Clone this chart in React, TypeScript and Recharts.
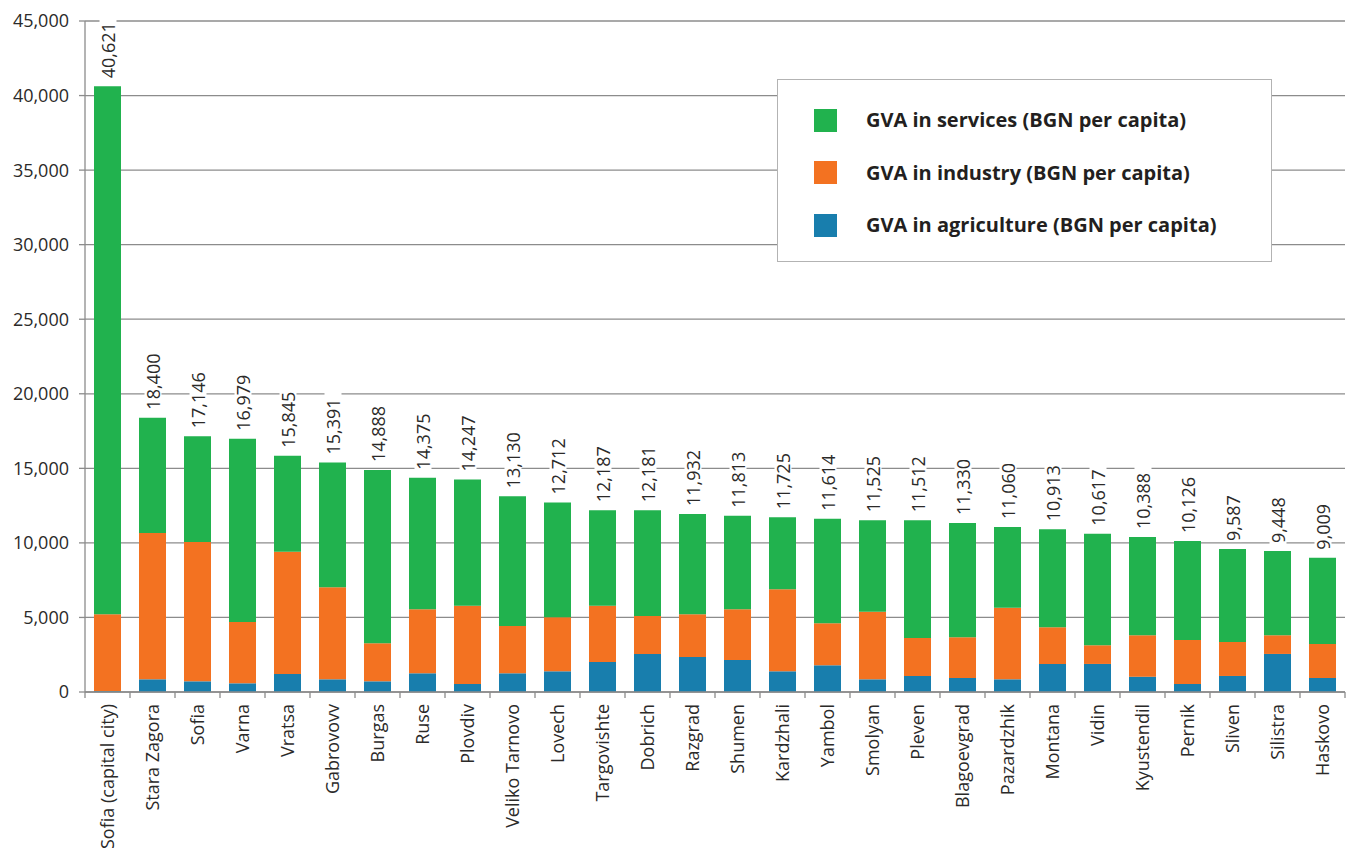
import { Bar, BarChart, CartesianGrid, LabelList, Legend, XAxis, YAxis } from "recharts"

const regions = [
	"Sofia (capital city)", "Stara Zagora", "Sofia", "Varna", "Vratsa", "Gabrovovv", "Burgas",
	"Ruse", "Plovdiv", "Veliko Tarnovo", "Lovech", "Targovishte", "Dobrich", "Razgrad",
	"Shumen", "Kardzhali", "Yambol", "Smolyan", "Pleven", "Blagoevgrad", "Pazardzhik",
	"Montana", "Vidin", "Kyustendil", "Pernik", "Sliven", "Silistra", "Haskovo",
]

const agriculture = [
	60, 851, 716, 582, 1209, 851, 716, 1254, 537, 1254, 1388, 2015, 2552, 2351,
	2149, 1388, 1791, 851, 1075, 940, 851, 1881, 1881, 1030, 537, 1075, 2552, 940,
]

const industry = [
	5157, 9807, 9337, 4120, 8195, 6179, 2553, 4299, 5240, 3179, 3627, 3762, 2553, 2866,
	3404, 5508, 2821, 4523, 2552, 2732, 4791, 2463, 1254, 2776, 2956, 2283, 1254, 2284,
]

const services = [
	35404, 7742, 7093, 12277, 6441, 8361, 11619, 8822, 8470, 8697, 7697, 6410, 7076, 6715,
	6260, 4829, 7002, 6151, 7885, 7658, 5418, 6569, 7482, 6582, 6633, 6229, 5642, 5785,
]

const yTicks = [0, 5000, 10000, 15000, 20000, 25000, 30000, 35000, 40000, 45000]

const GREEN = "#21b24e"
const ORANGE = "#f37221"
const BLUE = "#187ead"
const GRID = "#8c8c8c"
const TEXT = "#2b2a29"
const FONT = "'Open Sans', sans-serif"

const data = regions.map((name, i) => ({
	name,
	agriculture: agriculture[i],
	industry: industry[i],
	services: services[i],
	total: agriculture[i] + industry[i] + services[i],
}))

const fmt = (v: number) => v.toLocaleString("en-US")

// category name rotated under the bar, plus tick marks on the band edges
function RegionTick(props: any) {
	const { x, y, payload, index } = props
	const half = payload.offset ?? 22.5
	return (
		<g>
			<line x1={x - half} x2={x - half} y1={y} y2={y + 6} stroke={GRID} strokeWidth={1.3} />
			{index === regions.length - 1 && (
				<line x1={x + half} x2={x + half} y1={y} y2={y + 6} stroke={GRID} strokeWidth={1.3} />
			)}
			<g transform={`translate(${x},${y + 12}) rotate(-90)`}>
				<text textAnchor="end" dy={6} fontSize={18} fill={TEXT} fontFamily={FONT}>
					{payload.value}
				</text>
			</g>
		</g>
	)
}

// total above each stack, on a white patch so the grid doesn't run through it
function TotalLabel(props: any) {
	const { x, y, width, value } = props
	const text = fmt(value)
	const len = text.length * 9.9
	const cx = x + width / 2
	const base = y - 8
	return (
		<g>
			<rect x={cx - 8} y={base - len - 3} width={17} height={len + 4} fill="#fff" />
			<g transform={`translate(${cx},${base}) rotate(-90)`}>
				<text textAnchor="start" dy={7} fontSize={18} fill={TEXT} fontFamily={FONT}>
					{text}
				</text>
			</g>
		</g>
	)
}

function LegendBox(props: any) {
	const items = [...(props.payload || [])].reverse()
	return (
		<div
			style={{
				position: "relative",
				width: 495,
				height: 183,
				border: "1.5px solid #b3b3b3",
				background: "#fff",
				boxSizing: "border-box",
				fontFamily: FONT,
			}}
		>
			{items.map((item: any, i: number) => (
				<div key={item.value} style={{ position: "absolute", left: 0, top: 40 + i * 52.5, height: 0 }}>
					<div
						style={{ position: "absolute", left: 36, top: -11.5, width: 23, height: 23, background: item.color }}
					/>
					<div
						style={{
							position: "absolute",
							left: 88,
							top: -14,
							lineHeight: "28px",
							whiteSpace: "nowrap",
							fontSize: 20,
							fontWeight: 700,
							color: "#231f20",
						}}
					>
						{item.value}
					</div>
				</div>
			))}
		</div>
	)
}

export default function App() {
	return (
		<div style={{ position: "fixed", left: 0, top: 0, background: "#fff" }}>
			<BarChart
				width={1349}
				height={859}
				data={data}
				margin={{ top: 21, right: 4, bottom: 0, left: 0 }}
			>
				<CartesianGrid vertical={false} stroke={GRID} strokeWidth={1.3} />
				<XAxis
					dataKey="name"
					interval={0}
					height={167}
					axisLine={{ stroke: GRID, strokeWidth: 1.3 }}
					tickLine={false}
					tickSize={0}
					tickMargin={0}
					tick={<RegionTick />}
				/>
				<YAxis
					width={85}
					domain={[0, 45000]}
					ticks={yTicks}
					interval={0}
					tickFormatter={fmt}
					axisLine={{ stroke: GRID, strokeWidth: 1.3 }}
					tickLine={{ stroke: GRID, strokeWidth: 1.3 }}
					tickSize={6}
					tickMargin={10}
					tick={{ fontSize: 18, fill: TEXT, fontFamily: FONT }}
				/>
				<Legend
					layout="vertical"
					align="center"
					verticalAlign="middle"
					content={<LegendBox />}
					wrapperStyle={{ left: 777, top: 79, width: 495, height: 183 }}
				/>
				<Bar dataKey="agriculture" name="GVA in agriculture (BGN per capita)" stackId="gva" fill={BLUE} barSize={27} isAnimationActive={false} />
				<Bar dataKey="industry" name="GVA in industry (BGN per capita)" stackId="gva" fill={ORANGE} barSize={27} isAnimationActive={false} />
				<Bar dataKey="services" name="GVA in services (BGN per capita)" stackId="gva" fill={GREEN} barSize={27} isAnimationActive={false}>
					<LabelList dataKey="total" content={<TotalLabel />} />
				</Bar>
			</BarChart>
		</div>
	)
}
